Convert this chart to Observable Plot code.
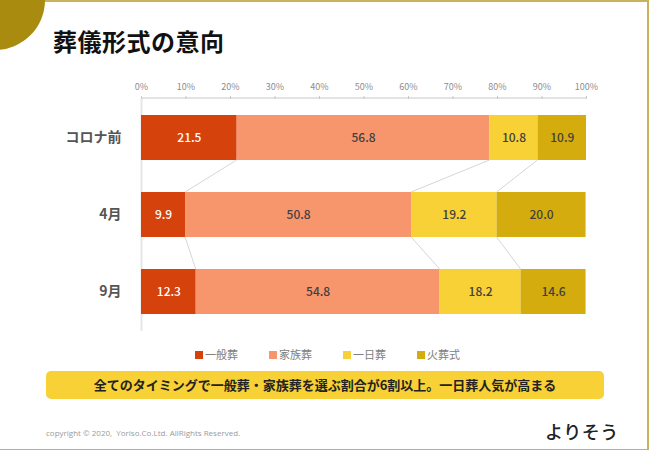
<!DOCTYPE html>
<html>
<head>
<meta charset="utf-8">
<script src="https://cdn.jsdelivr.net/npm/d3@7"></script>
<script src="https://cdn.jsdelivr.net/npm/@observablehq/plot@0.6"></script>
<style>
  html, body { margin: 0; padding: 0; background: #fff; }
  body { font-family: "Noto Sans CJK JP", "Noto Sans", sans-serif; }
  #page { position: relative; width: 650px; height: 450px; overflow: hidden; background: #fff; }
  .abs { position: absolute; }
  #frame { left: 0; top: 0; width: 647px; height: 447px; border-top: 2px solid #c9b25c; border-right: 2px solid #c9b25c; border-bottom: 2px solid #c9b25c; box-sizing: content-box; }
  #corner { left: -55px; top: -50px; width: 100px; height: 100px; border-radius: 50%; background: #a98b10; }
  #title { left: 53px; top: 25px; font-size: 24px; font-weight: 700; color: #111; line-height: 32px; letter-spacing: 0.5px; }
  #chart { left: 0; top: 0; }
  #legend { left: 0; top: 346px; width: 650px; height: 16px; font-size: 11px; color: #808080; }
  .lg { position: absolute; top: 0; line-height: 16px; }
  .sw { display: inline-block; width: 8px; height: 8px; margin-right: 2px; vertical-align: 0px; }
  #callout { left: 46px; top: 371px; width: 558px; height: 28px; background: #f7d135; border-radius: 5px; text-align: center; line-height: 28px; font-size: 13px; font-weight: 700; color: #222; }
  #copy { left: 46px; top: 427px; font-size: 8px; color: #9a9a9a; font-family: "Open Sans", "Noto Sans", sans-serif; }
  #logo { left: 545px; top: 418px; font-size: 18px; font-weight: 500; color: #222; letter-spacing: 0.5px; line-height: 26px; }
</style>
</head>
<body>
<div id="page">
  <div id="frame" class="abs"></div>
  <div id="corner" class="abs"></div>
  <div id="title" class="abs">葬儀形式の意向</div>
  <div id="chart" class="abs"></div>
  <div id="legend" class="abs"></div>
  <div id="callout" class="abs">全てのタイミングで一般葬・家族葬を選ぶ割合が6割以上。一日葬人気が高まる</div>
  <div id="copy" class="abs">copyright © 2020,&nbsp; Yoriso.Co.Ltd. AllRights Reserved.</div>
  <div id="logo" class="abs">よりそう</div>
</div>
<script>
const periods = ["コロナ前", "4月", "9月"];
const types = ["一般葬", "家族葬", "一日葬", "火葬式"];
const colors = ["#d5420b", "#f7956d", "#f7d135", "#d4ac0d"];
const textColors = ["#ffffff", "#404040", "#404040", "#404040"];
const valuesBefore = [21.5, 56.8, 10.8, 10.9];
const valuesApr = [9.9, 50.8, 19.2, 20.0];
const valuesSep = [12.3, 54.8, 18.2, 14.6];
const xTicks = [0, 10, 20, 30, 40, 50, 60, 70, 80, 90, 100];

const seriesByPeriod = [valuesBefore, valuesApr, valuesSep];
const rows = [];
periods.forEach((p, i) => {
  types.forEach((t, j) => {
    rows.push({ period: p, type: t, value: seriesByPeriod[i][j], tcolor: textColors[j] });
  });
});

// cumulative boundaries for connector lines
const cum = seriesByPeriod.map(vals => d3.cumsum(vals));
const links = [];
for (let i = 0; i < periods.length - 1; i++) {
  for (let j = 0; j < 3; j++) {
    links.push({ from: periods[i], to: periods[i + 1], x1: cum[i][j], x2: cum[i + 1][j] });
  }
}

const plot = Plot.plot({
  width: 650,
  height: 450,
  marginLeft: 141,
  marginRight: 64,
  marginTop: 98,
  marginBottom: 119,
  style: { background: "transparent", fontFamily: "'Noto Sans CJK JP', sans-serif" },
  x: { domain: [0, 100] },
  y: { domain: periods, paddingInner: 0.42, paddingOuter: 0.213 },
  color: { domain: types, range: colors },
  marks: [
    Plot.axisX({ anchor: "top", ticks: xTicks, tickFormat: d => d + "%", tickSize: 3, tickPadding: 6, stroke: "#c8c8c8", fill: "#8c8c8c", fontSize: 9, label: null }),
    Plot.ruleX([0], { stroke: "#e6e6e6", strokeWidth: 2 }),
    Plot.axisY({ tickSize: 0, tickPadding: 20, fontSize: 14, fontWeight: 700, fill: "#555555", label: null }),
    Plot.barX(rows, Plot.stackX({ x: "value", y: "period", fill: "type", order: types })),
    Plot.text(rows, Plot.stackX({ x: "value", y: "period", z: "type", order: types, text: d => d.value.toFixed(1), fill: "tcolor", fontSize: 12, fontWeight: 500 }))
  ]
});

const svg = d3.select(plot);
const xs = plot.scale("x");
const ys = plot.scale("y");
const bw = ys.bandwidth;

// top axis baseline
svg.append("line")
  .attr("x1", xs.apply(0)).attr("x2", xs.apply(100))
  .attr("y1", 98).attr("y2", 98)
  .attr("stroke", "#c8c8c8").attr("stroke-width", 1);

// connector lines between stacked segments
const g = svg.append("g");
for (const l of links) {
  g.append("line")
    .attr("x1", xs.apply(l.x1)).attr("y1", ys.apply(l.from) + bw)
    .attr("x2", xs.apply(l.x2)).attr("y2", ys.apply(l.to))
    .attr("stroke", "#d6d6d6").attr("stroke-width", 1);
}

document.getElementById("chart").appendChild(plot);

// legend
const legend = document.getElementById("legend");
const lx = [195, 269, 343, 417];
types.forEach((t, i) => {
  const d = document.createElement("div");
  d.className = "lg";
  d.style.left = lx[i] + "px";
  d.innerHTML = `<span class="sw" style="background:${colors[i]}"></span>${t}`;
  legend.appendChild(d);
});
</script>
</body>
</html>
